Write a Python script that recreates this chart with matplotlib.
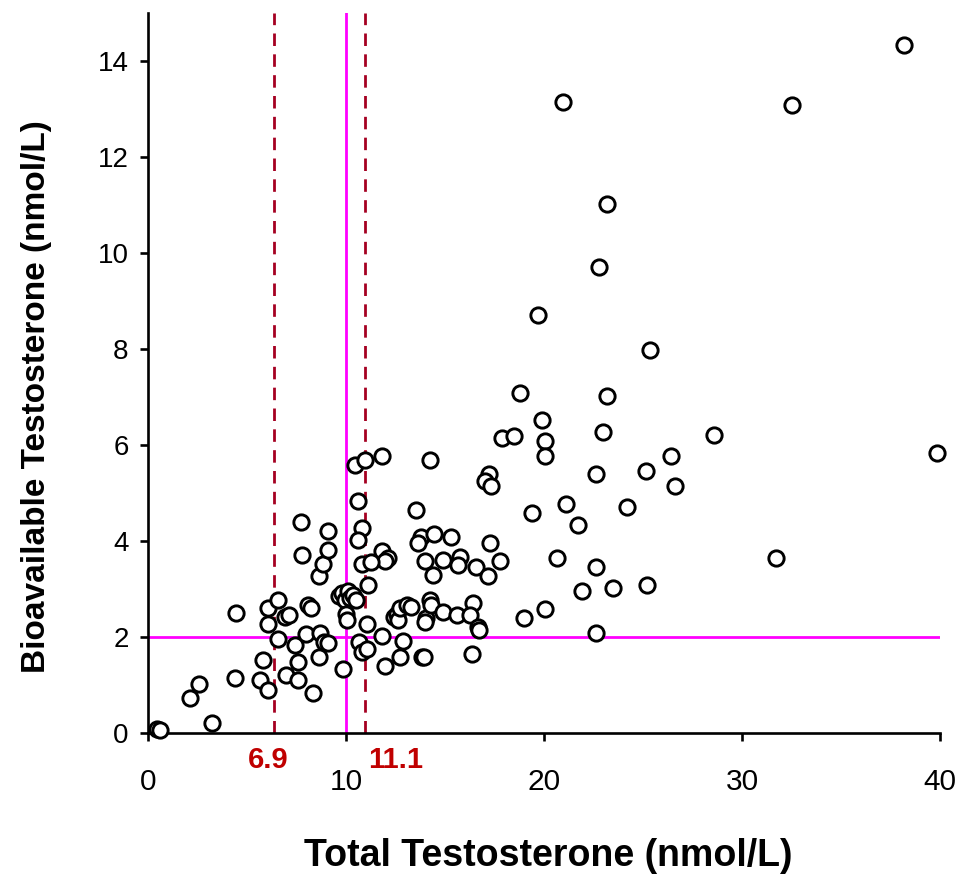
import matplotlib
matplotlib.use("Agg")
import matplotlib.pyplot as plt

plt.rcParams['font.family'] = ['Liberation Sans', 'DejaVu Sans']

# total testosterone (x) vs bioavailable testosterone (y), nmol/L
total_t = [
    0.45, 0.6, 2.12, 2.59, 3.22, 4.39, 4.43, 5.66, 5.79, 6.08, 6.08, 6.08, 6.55, 6.58,
    6.92, 6.97, 7.14, 7.42, 7.59, 7.59, 7.74, 7.76, 8.0, 8.1, 8.25, 8.35, 8.64, 8.64,
    8.69, 8.82, 8.91, 9.1, 9.1, 9.1, 9.65, 9.8, 9.85, 9.95, 10.1, 10.2, 10.35, 10.5,
    10.0, 10.03, 11.13, 11.07, 10.67, 10.79, 11.04, 11.83, 12.89, 11.97, 12.73, 13.82,
    13.94, 16.38, 12.42, 12.55, 12.6, 12.73, 13.06, 13.3, 14.04, 14.24, 14.29, 13.99,
    14.88, 15.59, 16.39, 16.26, 16.68, 16.74,
    10.45, 10.96, 11.83, 14.24, 10.62, 13.52, 10.79, 10.62, 13.78, 13.65, 14.42, 15.3,
    17.27, 11.84, 12.1, 11.97, 10.79, 11.25, 13.98, 14.88, 15.76, 15.64, 16.55, 17.8,
    14.4, 17.15,
    38.2, 20.96, 32.5, 23.2, 22.8, 19.7, 25.35, 18.8, 23.2, 19.9, 28.6, 39.85, 23.0,
    17.9, 18.5, 20.05, 20.05, 26.4, 25.15, 22.6, 26.6, 17.2, 17.0, 17.3, 21.1, 24.2,
    19.4, 21.7, 20.65, 31.7, 22.6, 23.5, 25.2, 21.9, 20.05, 19.0, 22.6,
]
bio_t = [
    0.09, 0.07, 0.72, 1.03, 0.21, 1.15, 2.51, 1.10, 1.52, 2.60, 2.27, 0.90, 1.95, 2.78,
    2.41, 1.21, 2.46, 1.83, 1.47, 1.10, 4.40, 3.71, 2.07, 2.67, 2.60, 0.84, 3.27, 1.59,
    2.09, 3.52, 1.90, 4.21, 3.82, 1.88, 2.86, 2.92, 1.33, 2.77, 2.95, 2.82, 2.88, 2.78,
    2.49, 2.35, 3.08, 2.28, 1.90, 1.69, 1.76, 2.02, 1.92, 1.40, 1.58, 1.58,
    1.59, 1.65, 2.42, 2.49, 2.36, 2.60, 2.67, 2.63, 2.39, 2.77, 2.67, 2.32,
    2.53, 2.46, 2.70, 2.46, 2.21, 2.15,
    5.58, 5.70, 5.77, 5.70, 4.83, 4.65, 4.28, 4.02, 4.09, 3.96, 4.15, 4.09,
    3.96, 3.79, 3.64, 3.59, 3.53, 3.56, 3.59, 3.60, 3.66, 3.50, 3.46, 3.58,
    3.29, 3.27,
    14.33, 13.15, 13.08, 11.02, 9.71, 8.71, 7.98, 7.08, 7.02, 6.52, 6.21, 5.83, 6.27,
    6.15, 6.19, 6.08, 5.77, 5.77, 5.46, 5.40, 5.15, 5.40, 5.25, 5.15, 4.77, 4.71,
    4.58, 4.33, 3.65, 3.65, 3.46, 3.02, 3.08, 2.96, 2.58, 2.40, 2.08,
]

# cut-offs: reference lines and the dashed thresholds with their printed labels
tt_cut, bio_cut = 10, 2
dash_x = [6.35, 10.95]
dash_lbl = ["6.9", "11.1"]

fig = plt.figure(figsize=(9.63, 8.8), dpi=100)
ax = fig.add_axes([0.1537, 0.167, 0.8225, 0.818])

ax.axvline(tt_cut, color="#FF00FF", lw=2.0, zorder=1)
ax.axhline(bio_cut, color="#FF00FF", lw=2.0, zorder=1)
for xv in dash_x:
    ax.axvline(xv, color="#A50021", lw=2.0, dashes=(4.5, 3), zorder=1)

ax.plot(total_t, bio_t, "o", ms=11, mfc="white", mec="black", mew=2.1,
        clip_on=False, zorder=3)

ax.set_xlim(0, 40); ax.set_ylim(0, 15)
ax.set_xticks(range(0, 41, 10)); ax.set_yticks(range(0, 15, 2))
for s in ["top", "right"]: ax.spines[s].set_visible(False)
for s in ["left", "bottom"]: ax.spines[s].set_linewidth(1.9)
ax.tick_params(width=1.9, length=6, labelsize=21.5)
ax.tick_params(axis="y", pad=8, labelsize=20)
ax.tick_params(axis="x", pad=19)

ax.annotate(dash_lbl[0], (dash_x[0], 0), xytext=(-4.3, -9), textcoords="offset points",
            ha="center", va="top", color="#C00000", fontsize=21, fontweight="bold")
ax.annotate(dash_lbl[1], (dash_x[1], 0), xytext=(22, -9), textcoords="offset points",
            ha="center", va="top", color="#C00000", fontsize=21, fontweight="bold")

ax.set_xlabel("Total Testosterone (nmol/L)", fontsize=27, fontweight="bold")
ax.set_ylabel("Bioavailable Testosterone (nmol/L)", fontsize=24, fontweight="bold")
ax.xaxis.set_label_coords(0.505, -0.146)
ax.yaxis.set_label_coords(-0.121, 0.468)

plt.savefig("out.png", dpi=100)
